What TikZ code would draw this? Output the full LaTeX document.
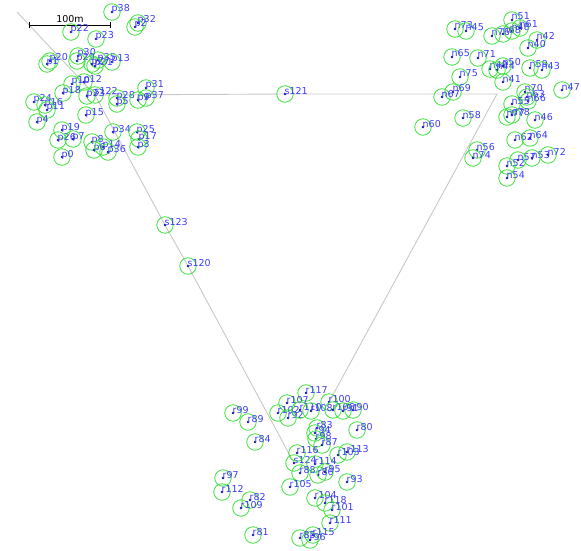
\documentclass[tikz,border=0pt]{standalone}
\usepackage{fontspec}
\setmainfont{DejaVu Sans}
\usetikzlibrary{backgrounds}
\definecolor{ndgreen}{RGB}{60,225,60}
\definecolor{lblue}{RGB}{60,60,245}
\definecolor{dblue}{RGB}{20,20,170}
\definecolor{linkgray}{RGB}{200,200,200}
\newcommand\stn[3]{%
  \node[nd] (#1) at (#2,#3) {};
  \fill[dblue] (#1.center) circle (1.3pt);
  \node[lbl] at (#1.center) {#1};}
\begin{document}
\begin{tikzpicture}[x=1pt,y=-1pt,
  nd/.style={circle,draw=ndgreen,line width=0.8pt,minimum size=16.5pt,inner sep=0pt},
  lbl/.style={anchor=base west,inner sep=0pt,xshift=-0.5pt,text=lblue,font=\fontsize{9.5}{11}\selectfont},
  link/.style={draw=linkgray,line width=0.9pt},
  bar/.style={draw=black,line width=0.9pt}]
\useasboundingbox (0,0) rectangle (581,551);
% scale bar
\coordinate (sbL) at (29,25);
\coordinate (sbR) at (110,25);
\draw[bar] (sbL) -- (sbR);
\draw[bar] ([yshift=3pt]sbL) -- ([yshift=-3pt]sbL);
\draw[bar] ([yshift=3pt]sbR) -- ([yshift=-3pt]sbR);
\node[anchor=base,inner sep=0pt,font=\fontsize{9.5}{11}\selectfont] (sblabel) at (70,23) {100m};
% s nodes
\stn{s120}{188}{266}
\stn{s121}{285}{94}
\stn{s122}{95}{95}
\stn{s123}{165}{225}
\stn{s124}{294}{463}
% p cluster
\stn{p38}{112}{12}
\stn{p32}{138}{23}
\stn{p2}{135}{27}
\stn{p22}{71}{32}
\stn{p23}{96}{39}
\stn{p20}{50}{61}
\stn{p1}{47}{64}
\stn{p30}{78}{56}
\stn{p29}{77}{61}
\stn{p35}{98}{60}
\stn{p27}{92}{64}
\stn{p21}{95}{66}
\stn{p13}{112}{62}
\stn{p10}{72}{84}
\stn{p12}{84}{82}
\stn{p18}{63}{93}
\stn{p33}{87}{96}
\stn{p28}{117}{98}
\stn{p5}{117}{104}
\stn{p31}{146}{88}
\stn{p37}{146}{98}
\stn{p9}{138}{100}
\stn{p24}{34}{102}
\stn{p16}{45}{105}
\stn{p11}{47}{110}
\stn{p4}{37}{122}
\stn{p15}{86}{115}
\stn{p19}{62}{130}
\stn{p26}{58}{140}
\stn{p7}{73}{139}
\stn{p8}{92}{142}
\stn{p6}{94}{150}
\stn{p14}{103}{147}
\stn{p36}{108}{152}
\stn{p0}{62}{157}
\stn{p34}{113}{132}
\stn{p25}{137}{132}
\stn{p17}{139}{139}
\stn{p3}{138}{147}
% n cluster
\stn{n51}{512}{20}
\stn{n73}{455}{29}
\stn{n45}{466}{31}
\stn{n76}{492}{36}
\stn{n68}{503}{34}
\stn{n48}{512}{31}
\stn{n61}{520}{28}
\stn{n42}{537}{40}
\stn{n40}{528}{48}
\stn{n65}{452}{57}
\stn{n71}{478}{58}
\stn{n49}{490}{69}
\stn{n44}{497}{70}
\stn{n50}{503}{66}
\stn{n59}{530}{68}
\stn{n43}{542}{70}
\stn{n75}{460}{77}
\stn{n41}{503}{82}
\stn{n47}{562}{90}
\stn{n70}{525}{92}
\stn{n69}{453}{92}
\stn{n67}{442}{97}
\stn{n63}{527}{97}
\stn{n66}{528}{101}
\stn{n55}{512}{104}
\stn{n77}{507}{117}
\stn{n78}{512}{115}
\stn{n46}{535}{120}
\stn{n58}{463}{118}
\stn{n60}{423}{127}
\stn{n62}{515}{140}
\stn{n64}{530}{138}
\stn{n56}{477}{150}
\stn{n74}{473}{158}
\stn{n52}{507}{166}
\stn{n57}{518}{160}
\stn{n53}{532}{158}
\stn{n72}{548}{155}
\stn{n54}{507}{178}
% r cluster
\stn{r117}{306}{393}
\stn{r100}{329}{402}
\stn{r107}{287}{403}
\stn{r99}{233}{413}
\stn{r89}{248}{422}
\stn{r90}{353}{410}
\stn{r102}{278}{413}
\stn{r92}{288}{418}
\stn{r110}{300}{410}
\stn{r108}{311}{411}
\stn{r106}{333}{410}
\stn{r91}{343}{411}
\stn{r80}{357}{430}
\stn{r83}{317}{428}
\stn{r94}{315}{433}
\stn{r98}{316}{439}
\stn{r87}{322}{445}
\stn{r84}{255}{442}
\stn{r116}{297}{453}
\stn{r103}{338}{455}
\stn{r113}{347}{452}
\stn{r114}{315}{464}
\stn{r88}{300}{473}
\stn{r86}{318}{475}
\stn{r95}{325}{472}
\stn{r93}{347}{482}
\stn{r105}{290}{487}
\stn{r97}{223}{478}
\stn{r112}{222}{492}
\stn{r82}{250}{500}
\stn{r109}{241}{508}
\stn{r104}{315}{498}
\stn{r118}{325}{503}
\stn{r101}{332}{510}
\stn{r111}{330}{523}
\stn{r81}{253}{535}
\stn{r115}{313}{535}
\stn{r96}{310}{540}
\stn{r85}{300}{538}
% connectors
\coordinate (tl) at (17,12);
\coordinate (tr) at (497,94);
\begin{scope}[on background layer]
\draw[link] (tl) -- (s122.center) -- (s123.center) -- (s120.center) -- (s124.center);
\draw[link] (s122.center) -- (s121.center) -- (tr) -- (r100.center);
\end{scope}
\end{tikzpicture}
\end{document}
